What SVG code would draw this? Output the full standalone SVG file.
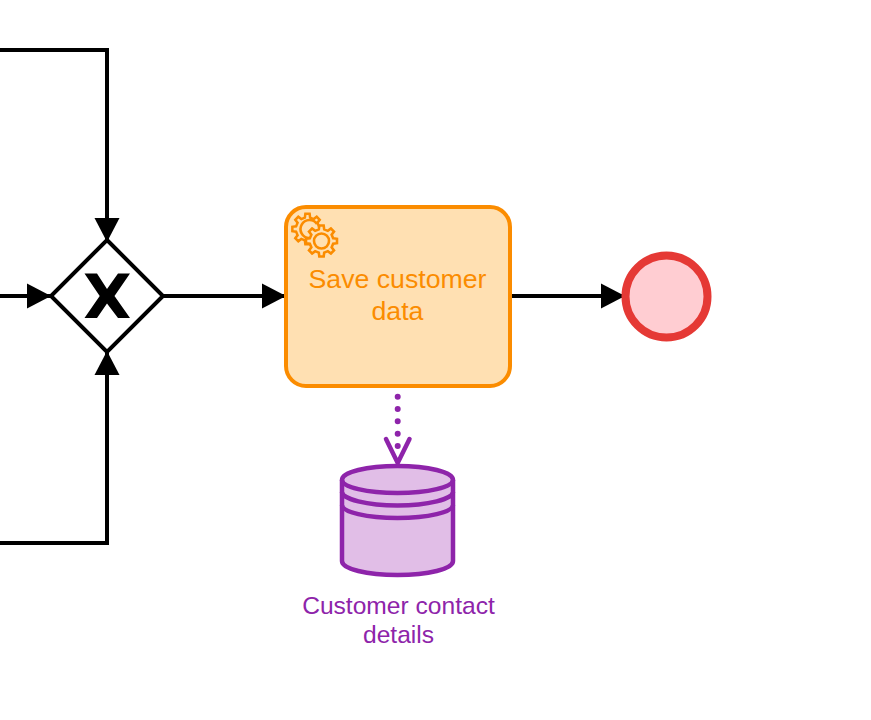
<svg xmlns="http://www.w3.org/2000/svg" width="871" height="720" viewBox="0 0 871 720">
<style>
.flow{fill:none;stroke:#000;stroke-width:4;stroke-linejoin:round}
.lbl{font-family:"Liberation Sans",Arial,sans-serif;text-anchor:middle}
.task-lbl{font-size:26.700px;fill:#fb8c00}
.data-lbl{font-size:24.600px;fill:#8e24aa}
.gear{fill:#ffe0b2;stroke:#fb8c00;stroke-width:2.800;stroke-linejoin:miter}
.db{fill:none;stroke:#8e24aa;stroke-width:4.500}
</style>
<defs>
<marker id="arrow" markerUnits="userSpaceOnUse" markerWidth="24" markerHeight="26" refX="24" refY="13" orient="auto"><polygon points="0,0.500 24,13 0,25.500" fill="#000"/></marker>
<polygon id="gearShape" points="12.67,-2.92 16.83,-2.37 16.83,2.37 12.67,2.92 11.02,6.89 13.58,10.23 10.23,13.58 6.89,11.02 2.92,12.67 2.37,16.83 -2.37,16.83 -2.92,12.67 -6.89,11.02 -10.23,13.58 -13.58,10.23 -11.02,6.89 -12.67,2.92 -16.83,2.37 -16.83,-2.37 -12.67,-2.92 -11.02,-6.89 -13.58,-10.23 -10.23,-13.58 -6.89,-11.02 -2.92,-12.67 -2.37,-16.83 2.37,-16.83 2.92,-12.67 6.89,-11.02 10.23,-13.58 13.58,-10.23 11.02,-6.89"/>
</defs>
<rect width="871" height="720" fill="#fff"/>
<g id="connectors">
<path class="flow" d="M0 50H107V242" marker-end="url(#arrow)" style="stroke-linejoin:miter"/>
<path class="flow" d="M0 543H107V351" marker-end="url(#arrow)" style="stroke-linejoin:miter"/>
<path class="flow" d="M0 296H51" marker-end="url(#arrow)"/>
<path class="flow" d="M163 296H286" marker-end="url(#arrow)"/>
<path class="flow" d="M511 296H625" marker-end="url(#arrow)"/>
<path d="M397.700 396.700V448" fill="none" stroke="#8e24aa" stroke-width="6" stroke-linecap="round" stroke-dasharray="0 12.330"/>
<path d="M386 439L397.700 463L409.500 439" fill="none" stroke="#8e24aa" stroke-width="4.500" stroke-linecap="round"/>
</g>
<g id="gateway">
<polygon points="107,240 163,296 107,352 51,296" fill="#fff" stroke="#000" stroke-width="4"/>
<polygon points="84.500,273.500 97,273.500 107,289 118,273.500 130,273.500 114.500,296 130,318 118,318 107,303.500 97,318 84.500,318 99.700,296" fill="#000"/>
</g>
<g id="task">
<rect x="286" y="207" width="224" height="179" rx="20" ry="20" fill="#ffe0b2" stroke="#fb8c00" stroke-width="4"/>
<use href="#gearShape" class="gear" transform="translate(307.500 229) scale(.9)"/>
<path d="M317 224A9 9 0 1 0 309 238" fill="none" stroke="#fb8c00" stroke-width="2.600"/>
<use href="#gearShape" class="gear" transform="translate(321.500 241) scale(.92)"/>
<circle cx="321.500" cy="241" r="7.500" fill="none" stroke="#fb8c00" stroke-width="2.600"/>
<text class="lbl task-lbl" x="397.500" y="288">Save customer</text>
<text class="lbl task-lbl" x="397.500" y="320">data</text>
</g>
<g id="end-event">
<circle cx="666.500" cy="296.500" r="41" fill="#ffcdd2" stroke="#e53935" stroke-width="8"/>
</g>
<g id="data-store">
<path d="M342 480C342 472 367 466 397.500 466S453 472 453 480V561C453 569 428 575 397.500 575S342 569 342 561Z" fill="#e1bee7"/>
<path class="db" d="M342 480C342 472 367 466 397.500 466S453 472 453 480V561C453 569 428 575 397.500 575S342 569 342 561Z"/>
<path class="db" d="M342 480C342 487 367 493 397.500 493S453 487 453 480"/>
<path class="db" d="M342 492C342 499 367 505.500 397.500 505.500S453 499 453 492"/>
<path class="db" d="M342 505C342 512 367 518 397.500 518S453 512 453 505"/>
<text class="lbl data-lbl" x="398.500" y="614">Customer contact</text>
<text class="lbl data-lbl" x="398.500" y="643">details</text>
</g>
</svg>
